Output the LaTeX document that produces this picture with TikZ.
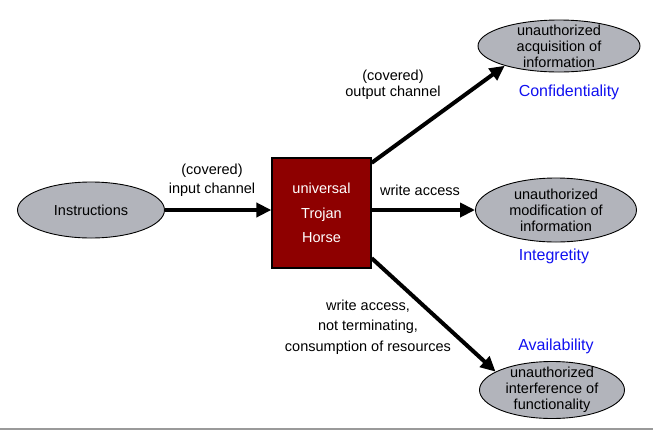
\documentclass[tikz,border=0pt]{standalone}
\usepackage{fontspec}
\setmainfont{Liberation Sans}
\usepackage{xcolor}
\usetikzlibrary{arrows.meta,positioning,shapes.geometric}
\definecolor{horsered}{HTML}{8E0000}
\definecolor{ellgray}{HTML}{B2B4BB}
\definecolor{cialabel}{HTML}{1010F0}
\definecolor{rulegray}{HTML}{9A9A9A}
\tikzset{
  effnode/.style={ellipse,draw=black,line width=0.9pt,fill=ellgray,inner xsep=0pt,inner ysep=-9pt,
    align=center,font=\fontsize{14.5}{16}\selectfont},
  horsebox/.style={rectangle,draw=black,line width=1.3pt,fill=horsered,text=white,inner sep=0pt,
    minimum width=99pt,minimum height=110pt,align=center,font=\fontsize{14.5}{24.5}\selectfont},
  chanlabel/.style={align=center,font=\fontsize{14.5}{19}\selectfont},
  cialbl/.style={text=cialabel,font=\fontsize{16}{18}\selectfont},
  flowedge/.style={-{Triangle[length=15pt,width=14pt]},line width=4pt,black},
}

\begin{document}
\begin{tikzpicture}[x=1pt,y=-1pt]
  \useasboundingbox (0,0) rectangle (653,432);
  \node[effnode,minimum width=147pt,minimum height=56pt] (ninstr) at (91,210) {Instructions};
  \node[horsebox] (nhorse) at (321.5,213) {universal\\Trojan\\Horse};
  \node[effnode,minimum width=162pt,minimum height=52pt] (nconf) at (559,46) {unauthorized\\acquisition of\\information};
  \node[effnode,minimum width=161pt,minimum height=64pt] (ninteg) at (556,210) {unauthorized\\modification of\\information};
  \node[effnode,minimum width=145pt,minimum height=57pt] (navail) at (552,390) {unauthorized\\interference of\\functionality};
  \node[cialbl] (lconf) at (569,92) {Confidentiality};
  \node[cialbl] (linteg) at (554,256) {Integretity};
  \node[cialbl] (lavail) at (556,346) {Availability};
  \node[chanlabel] (linput) at (212,180) {(covered)\\input channel};
  \node[chanlabel,font=\fontsize{14.5}{16}\selectfont] (loutput) at (393,85) {(covered)\\output channel};
  \node[chanlabel] (lwrite) at (420,190) {write access};
  \node[chanlabel,font=\fontsize{14.5}{20.5}\selectfont] (lconsume) at (368,327) {write access,\\not terminating,\\consumption of resources};
  \draw[flowedge] (ninstr) -- (nhorse.west |- ninstr);
  \draw[flowedge] (nhorse.45) -- (nconf.200);
  \draw[flowedge] (nhorse.east |- ninteg) -- (ninteg);
  \draw[flowedge] (nhorse.-42) -- (navail.162);
  \draw[rulegray,line width=2pt] (0,429) -- (653,429);
\end{tikzpicture}
\end{document}
